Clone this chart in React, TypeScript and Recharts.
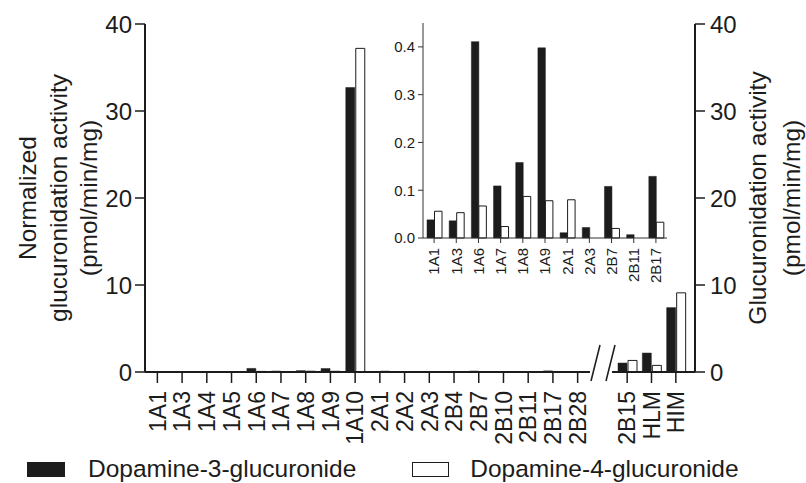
import { BarChart, Bar, XAxis, YAxis, Legend } from 'recharts';

const mainCategories = ['1A1', '1A3', '1A4', '1A5', '1A6', '1A7', '1A8', '1A9', '1A10', '2A1', '2A2', '2A3', '2B4', '2B7', '2B10', '2B11', '2B17', '2B28'];
const mainDopamine3 = [0.038, 0.036, 0, 0, 0.411, 0.109, 0.158, 0.398, 32.7, 0.011, 0, 0.022, 0, 0.108, 0, 0.007, 0.129, 0];
const mainDopamine4 = [0.056, 0.053, 0, 0, 0.067, 0.024, 0.087, 0.078, 37.2, 0.08, 0, 0, 0, 0.02, 0, 0, 0.033, 0];

const tissueCategories = ['2B15', 'HLM', 'HIM'];
const tissueDopamine3 = [1.03, 2.18, 7.4];
const tissueDopamine4 = [1.33, 0.76, 9.1];

// subset shown in the zoomed inset
const insetCategories = ['1A1', '1A3', '1A6', '1A7', '1A8', '1A9', '2A1', '2A3', '2B7', '2B11', '2B17'];

const activityTicks = [0, 10, 20, 30, 40];
const insetTicks = [0, 0.1, 0.2, 0.3, 0.4];

const FONT = '"Liberation Sans", Arial, Helvetica, sans-serif';
const INK = '#1c1c1c';
const D3_NAME = 'Dopamine-3-glucuronide';
const D4_NAME = 'Dopamine-4-glucuronide';

const mainData = mainCategories.map((name, i) => ({ name, d3: mainDopamine3[i], d4: mainDopamine4[i] }));
const tissueData = tissueCategories.map((name, i) => ({ name, d3: tissueDopamine3[i], d4: tissueDopamine4[i] }));
const insetData = insetCategories.map((name) => {
  const i = mainCategories.indexOf(name);
  return { name, d3: mainDopamine3[i], d4: mainDopamine4[i] };
});

const rotatedTick = (fontSize: number) => (props: any) => {
  const { x, y, payload } = props;
  return (
    <text
      x={x}
      y={y}
      transform={`rotate(-90, ${x}, ${y})`}
      textAnchor="end"
      dy="0.36em"
      fontSize={fontSize}
      fontFamily={FONT}
      fill={INK}
    >
      {payload.value}
    </text>
  );
};

const verticalLines = (lines: string[], offsets: number[]) => (props: any) => {
  const vb = props.viewBox;
  const cy = vb.y + vb.height / 2;
  return (
    <g>
      {lines.map((line, i) => {
        const cx = vb.x + offsets[i];
        return (
          <text
            key={line}
            x={cx}
            y={cy}
            transform={`rotate(-90, ${cx}, ${cy})`}
            textAnchor="middle"
            dy="0.36em"
            fontSize={24.5}
            fontFamily={FONT}
            fill={INK}
          >
            {line}
          </text>
        );
      })}
    </g>
  );
};

const LegendContent = (props: any) => {
  const items = props.payload || [];
  return (
    <div style={{ display: 'flex', alignItems: 'center', height: 28, fontFamily: FONT, fontSize: 24.5, color: INK }}>
      {items.map((item: any, i: number) => (
        <div key={item.value} style={{ display: 'flex', alignItems: 'center', marginLeft: i === 0 ? 27 : 56 }}>
          <span
            style={{
              display: 'inline-block',
              width: i === 0 ? 38 : 35,
              height: i === 0 ? 15 : 13,
              background: i === 0 ? INK : '#fff',
              border: i === 0 ? 'none' : `1px solid ${INK}`,
              marginRight: i === 0 ? 23 : 21,
            }}
          />
          <span style={{ lineHeight: '28px' }}>{item.value}</span>
        </div>
      ))}
    </div>
  );
};

const layer = { position: 'absolute' as const, left: 0, top: 0 };

export default function App() {
  return (
    <div style={{ position: 'absolute', left: 0, top: 0, width: 806, height: 483, background: '#fff' }}>
      <div style={layer}>
        <BarChart width={806} height={483} data={mainData} margin={{ top: 24, right: 216, bottom: 0, left: 0 }} barSize={9} barGap={1}>
          <XAxis
            dataKey="name"
            height={111}
            interval={0}
            tickSize={11}
            tickMargin={8}
            axisLine={{ stroke: INK, strokeWidth: 2 }}
            tickLine={{ stroke: INK, strokeWidth: 1.5 }}
            tick={rotatedTick(23)}
          />
          <YAxis
            width={145}
            domain={[0, 40]}
            ticks={activityTicks}
            tickSize={10}
            tickMargin={3}
            axisLine={{ stroke: INK, strokeWidth: 2 }}
            tickLine={{ stroke: INK, strokeWidth: 1.5 }}
            tick={{ fontSize: 24, fontFamily: FONT, fill: INK }}
            label={verticalLines(['Normalized', 'glucuronidation activity', '(pmol/min/mg)'], [27, 58, 88])}
          />
          <Bar dataKey="d3" name={D3_NAME} fill={INK} stroke={INK} strokeWidth={0.5} isAnimationActive={false} />
          <Bar dataKey="d4" name={D4_NAME} fill="#fff" stroke={INK} strokeWidth={1} isAnimationActive={false} />
          <Legend
            layout="vertical"
            align="center"
            verticalAlign="middle"
            wrapperStyle={{ left: 0, top: 455, width: 806, height: 28 }}
            content={LegendContent}
          />
        </BarChart>
      </div>

      <div style={layer}>
        <BarChart width={806} height={483} data={tissueData} margin={{ top: 24, right: 0, bottom: 0, left: 612 }} barSize={9} barGap={1}>
          <XAxis
            dataKey="name"
            height={111}
            interval={0}
            padding={{ left: 3, right: 7 }}
            tickSize={11}
            tickMargin={8}
            axisLine={{ stroke: INK, strokeWidth: 2 }}
            tickLine={{ stroke: INK, strokeWidth: 1.5 }}
            tick={rotatedTick(23)}
          />
          <YAxis
            orientation="right"
            width={111}
            domain={[0, 40]}
            ticks={activityTicks}
            tickSize={10}
            tickMargin={5}
            axisLine={{ stroke: INK, strokeWidth: 2 }}
            tickLine={{ stroke: INK, strokeWidth: 1.5 }}
            tick={{ fontSize: 24, fontFamily: FONT, fill: INK }}
            label={verticalLines(['Glucuronidation activity', '(pmol/min/mg)'], [62, 96])}
          />
          <Bar dataKey="d3" name={D3_NAME} fill={INK} stroke={INK} strokeWidth={0.5} isAnimationActive={false} />
          <Bar dataKey="d4" name={D4_NAME} fill="#fff" stroke={INK} strokeWidth={1} isAnimationActive={false} />
        </BarChart>
      </div>

      {/* axis break marks */}
      <svg style={{ ...layer, pointerEvents: 'none' }} width={806} height={483}>
        <line x1={591} y1={381} x2={600} y2={345} stroke={INK} strokeWidth={1.5} />
        <line x1={606} y1={381} x2={615} y2={345} stroke={INK} strokeWidth={1.5} />
      </svg>

      <div style={{ position: 'absolute', left: 373, top: 0 }}>
        <BarChart width={300} height={300} data={insetData} margin={{ top: 23, right: 6, bottom: 0, left: 0 }} barSize={7.5} barGap={0}>
          <XAxis
            dataKey="name"
            height={62}
            interval={0}
            tickSize={5}
            tickMargin={5}
            axisLine={{ stroke: '#333', strokeWidth: 1 }}
            tickLine={{ stroke: '#333', strokeWidth: 1 }}
            tick={rotatedTick(15)}
          />
          <YAxis
            width={50}
            domain={[0, 0.45]}
            ticks={insetTicks}
            tickFormatter={(v: number) => v.toFixed(1)}
            tickSize={5}
            tickMargin={3}
            axisLine={{ stroke: '#333', strokeWidth: 1 }}
            tickLine={{ stroke: '#333', strokeWidth: 1 }}
            tick={{ fontSize: 15, fontFamily: FONT, fill: INK }}
          />
          <Bar dataKey="d3" name={D3_NAME} fill={INK} stroke={INK} strokeWidth={0.5} isAnimationActive={false} />
          <Bar dataKey="d4" name={D4_NAME} fill="#fff" stroke={INK} strokeWidth={1} isAnimationActive={false} />
        </BarChart>
      </div>
    </div>
  );
}
